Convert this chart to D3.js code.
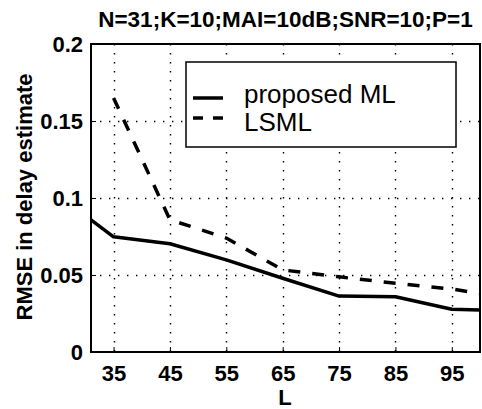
<!DOCTYPE html>
<html>
<head>
<meta charset="utf-8">
<script src="https://cdn.jsdelivr.net/npm/d3@7"></script>
<style>
  body { margin: 0; background: #fff; }
  svg text { font-family: "Liberation Sans", Arial, sans-serif; }
</style>
</head>
<body>
<svg id="chart" width="482" height="409"></svg>
<script>
// values
var L_ml = [31, 35, 45, 55, 65, 75, 85, 95, 100];
var rmse_ml = [0.0858, 0.0748, 0.0703, 0.0598, 0.0479, 0.0363, 0.0359, 0.0278, 0.0272];
var L_lsml = [35, 45, 55, 65, 75, 85, 95, 100];
var rmse_lsml = [0.165, 0.0859, 0.074, 0.0533, 0.0488, 0.0446, 0.0409, 0.038];
var xTicks = [35, 45, 55, 65, 75, 85, 95];
var yTicks = [0, 0.05, 0.1, 0.15, 0.2];
var seriesNames = ["proposed ML", "LSML"];

var plot = {x0: 91, x1: 480, y0: 44, y1: 352};

var svg = d3.select("#chart");

var x = d3.scaleLinear().domain([31, 100]).range([plot.x0, plot.x1]);
var y = d3.scaleLinear().domain([0, 0.2]).range([plot.y1, plot.y0]);

// dotted grid
var grid = svg.append("g")
    .attr("stroke", "#000")
    .attr("stroke-width", 1.4)
    .attr("stroke-dasharray", "1.4,7.6");

grid.selectAll(".vg")
  .data(xTicks)
  .enter().append("line")
    .attr("x1", d => Math.round(x(d)) + 0.5)
    .attr("x2", d => Math.round(x(d)) + 0.5)
    .attr("y1", plot.y0)
    .attr("y2", plot.y1);

grid.selectAll(".hg")
  .data(yTicks.slice(1, -1))
  .enter().append("line")
    .attr("x1", plot.x0)
    .attr("x2", plot.x1)
    .attr("y1", d => Math.round(y(d)) + 0.5)
    .attr("y2", d => Math.round(y(d)) + 0.5);

// axes (ticks inward)
var xAxis = d3.axisBottom(x).tickValues(xTicks).tickSizeInner(-5).tickSizeOuter(0).tickPadding(13);
var yAxis = d3.axisLeft(y).tickValues(yTicks).tickSizeInner(-5).tickSizeOuter(0).tickPadding(8)
    .tickFormat(d => d === 0 ? "0" : String(+d.toFixed(2)));

var gx = svg.append("g").attr("transform", "translate(0," + plot.y1 + ")").call(xAxis);
var gy = svg.append("g").attr("transform", "translate(" + plot.x0 + ",0)").call(yAxis);

[gx, gy].forEach(function(g) {
  g.select(".domain").remove();
  g.selectAll(".tick line").attr("stroke", "#000");
  g.selectAll(".tick text")
    .attr("fill", "#000")
    .style("font-size", "22px")
    .style("font-weight", "bold");
});
gx.selectAll(".tick text").attr("dy", "0.71em");

// box
svg.append("rect")
    .attr("x", plot.x0)
    .attr("y", plot.y0)
    .attr("width", plot.x1 - plot.x0)
    .attr("height", plot.y1 - plot.y0)
    .attr("fill", "none")
    .attr("stroke", "#000")
    .attr("stroke-width", 2);

// lines
var line = d3.line()
    .x(d => x(d[0]))
    .y(d => y(d[1]));

svg.append("path")
    .datum(d3.zip(L_ml, rmse_ml))
    .attr("fill", "none")
    .attr("stroke", "#000")
    .attr("stroke-width", 3.5)
    .attr("stroke-linejoin", "round")
    .attr("d", line);

svg.append("path")
    .datum(d3.zip(L_lsml, rmse_lsml))
    .attr("fill", "none")
    .attr("stroke", "#000")
    .attr("stroke-width", 3.5)
    .attr("stroke-dasharray", "12,12")
    .attr("d", line);

// legend
var lg = svg.append("g");
lg.append("rect")
    .attr("x", 186)
    .attr("y", 62)
    .attr("width", 270)
    .attr("height", 85)
    .attr("fill", "#fff")
    .attr("stroke", "#000")
    .attr("stroke-width", 1.5);

lg.selectAll(".item")
  .data(seriesNames)
  .enter().append("g")
    .attr("transform", (d, i) => "translate(0," + (98 + i * 20) + ")")
    .each(function(d, i) {
      var g = d3.select(this);
      g.append("line")
          .attr("x1", 193).attr("x2", 223)
          .attr("stroke", "#000")
          .attr("stroke-width", 3.5)
          .attr("stroke-dasharray", i === 1 ? "10,10" : null);
      g.append("text")
          .attr("x", 244)
          .attr("y", i === 0 ? 5 : 12.5)
          .style("font-size", "26px")
          .text(d);
    });

// title and labels
svg.append("text")
    .attr("x", 285.5)
    .attr("y", 27)
    .attr("text-anchor", "middle")
    .style("font-size", "22.5px")
    .style("font-weight", "bold")
    .text("N=31;K=10;MAI=10dB;SNR=10;P=1");

svg.append("text")
    .attr("x", 285)
    .attr("y", 405)
    .attr("text-anchor", "middle")
    .style("font-size", "22px")
    .style("font-weight", "bold")
    .text("L");

svg.append("text")
    .attr("transform", "translate(32,197) rotate(-90)")
    .attr("text-anchor", "middle")
    .style("font-size", "22px")
    .style("font-weight", "bold")
    .text("RMSE in delay estimate");
</script>
</body>
</html>
